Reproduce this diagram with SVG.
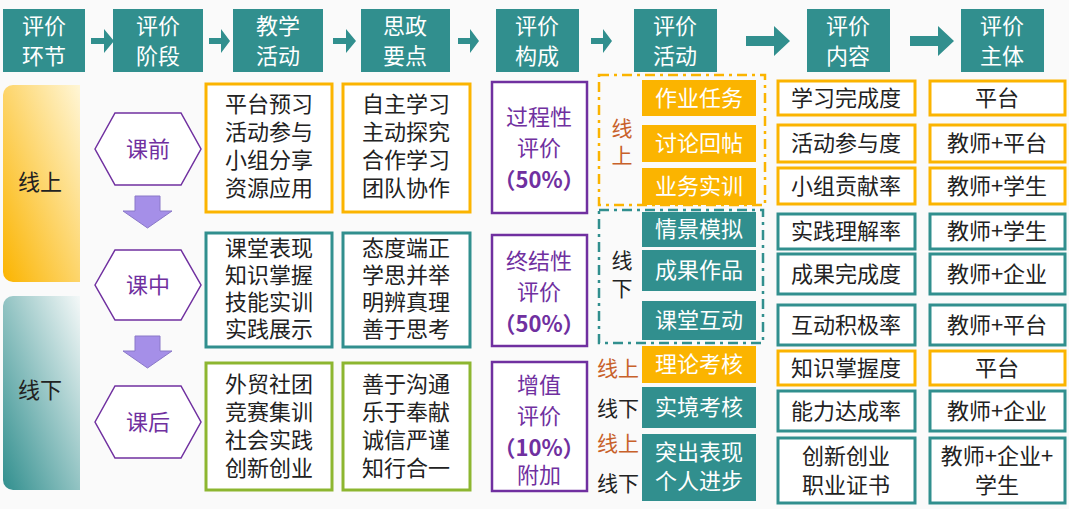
<svg xmlns="http://www.w3.org/2000/svg" width="1069" height="509" viewBox="0 0 1069 509">
<defs>
<style>
text{font-family:"Noto Sans CJK SC","Liberation Sans",sans-serif;text-anchor:middle}
.hd{fill:#318F8E}.ht{fill:#fff;font-size:22px}
.arw{fill:#318F8E}
.bo{fill:#fff;stroke:#FBB400;stroke-width:3}
.bt{fill:#fff;stroke:#318F8E;stroke-width:3}
.bg{fill:#fff;stroke:#8DB630;stroke-width:3}
.bp{fill:#fff;stroke:#7030A0;stroke-width:2.5}
.tx{font-size:22px;fill:#222}
.pt{font-size:22px;fill:#7030A0}
.ao{fill:#FBB400}.at{fill:#318F8E}
.wt{font-size:22px;fill:#fff}
.ol{fill:#C8612A;font-size:21px}
.dl{fill:#222;font-size:21px}
.hex{fill:#fff;stroke:#7030A0;stroke-width:1.5}
.dn{fill:#A58FE8;stroke:#8a78c8;stroke-width:1}
</style>
<linearGradient id="gup" x1="0" y1="1" x2="1" y2="0"><stop offset="0" stop-color="#FBB400"/><stop offset="1" stop-color="#FFF6D6"/></linearGradient>
<linearGradient id="gdn" x1="0" y1="1" x2="1" y2="0"><stop offset="0" stop-color="#318F8E"/><stop offset="1" stop-color="#F4F8F8"/></linearGradient>
</defs>
<rect width="1069" height="509" fill="#FAFAFA"/>
<g id="headers">
<rect class="hd" x="3" y="9" width="82" height="63"/><text class="ht" x="44" y="34">评价</text><text class="ht" x="44" y="64">环节</text>
<rect class="hd" x="113" y="9" width="90" height="63"/><text class="ht" x="158" y="34">评价</text><text class="ht" x="158" y="64">阶段</text>
<rect class="hd" x="233" y="9" width="90" height="63"/><text class="ht" x="278" y="34">教学</text><text class="ht" x="278" y="64">活动</text>
<rect class="hd" x="361" y="9" width="89" height="63"/><text class="ht" x="405" y="34">思政</text><text class="ht" x="405" y="64">要点</text>
<rect class="hd" x="496" y="9" width="83" height="63"/><text class="ht" x="537" y="34">评价</text><text class="ht" x="537" y="64">构成</text>
<rect class="hd" x="634" y="9" width="83" height="63"/><text class="ht" x="675" y="34">评价</text><text class="ht" x="675" y="64">活动</text>
<rect class="hd" x="807" y="9" width="83" height="63"/><text class="ht" x="848" y="34">评价</text><text class="ht" x="848" y="64">内容</text>
<rect class="hd" x="961" y="9" width="83" height="63"/><text class="ht" x="1002" y="34">评价</text><text class="ht" x="1002" y="64">主体</text>
</g>
<g id="connectors">
<path class="arw" d="M91,38h13v-9l10,12l-10,12v-9h-13z"/>
<path class="arw" d="M209,38h12v-9l9,12l-9,12v-9h-12z"/>
<path class="arw" d="M333,38h13v-9l10,12l-10,12v-9h-13z"/>
<path class="arw" d="M458,38h12v-9l9,12l-9,12v-9h-12z"/>
<path class="arw" d="M591,38h12v-9l9,12l-9,12v-9h-12z"/>
<path class="arw" d="M746,36h28v-10l16,15l-16,15v-10h-28z"/>
<path class="arw" d="M910,36h28v-10l16,15l-16,15v-10h-28z"/>
<path class="dn" d="M135,196h25v15h12l-24.5,17l-24.5,-17h12z"/>
<path class="dn" d="M135,336h25v15h12l-24.5,17l-24.5,-17h12z"/>
</g>
<g id="online"><path d="M13,85h67v197h-67a10,10 0 0 1 -10,-10v-177a10,10 0 0 1 10,-10z" fill="url(#gup)"/><text class="tx" x="40" y="190">线上</text></g>
<g id="offline"><path d="M13,296h67v194h-67a10,10 0 0 1 -10,-10v-174a10,10 0 0 1 10,-10z" fill="url(#gdn)"/><text class="tx" x="40" y="398">线下</text></g>
<g id="kq"><polygon class="hex" points="95,149 115,113 181,113 201,149 181,185 115,185"/><text class="pt" x="148" y="157">课前</text></g>
<g id="kz"><polygon class="hex" points="95,285 115,250 181,250 201,285 181,320 115,320"/><text class="pt" x="148" y="293">课中</text></g>
<g id="kh"><polygon class="hex" points="95,422 115,386 181,386 201,422 181,458 115,458"/><text class="pt" x="148" y="430">课后</text></g>
<g id="act1"><rect class="bo" x="206" y="84" width="126" height="128"/><text class="tx" x="269" y="112">平台预习</text><text class="tx" x="269" y="140">活动参与</text><text class="tx" x="269" y="168">小组分享</text><text class="tx" x="269" y="196">资源应用</text></g>
<g id="act2"><rect class="bt" x="206" y="233" width="126" height="114"/><text class="tx" x="269" y="256">课堂表现</text><text class="tx" x="269" y="283">知识掌握</text><text class="tx" x="269" y="310">技能实训</text><text class="tx" x="269" y="337">实践展示</text></g>
<g id="act3"><rect class="bg" x="206" y="363" width="126" height="127"/><text class="tx" x="269" y="392">外贸社团</text><text class="tx" x="269" y="420">竞赛集训</text><text class="tx" x="269" y="448">社会实践</text><text class="tx" x="269" y="476">创新创业</text></g>
<g id="sz1"><rect class="bo" x="343" y="84" width="127" height="128"/><text class="tx" x="406" y="112">自主学习</text><text class="tx" x="406" y="140">主动探究</text><text class="tx" x="406" y="168">合作学习</text><text class="tx" x="406" y="196">团队协作</text></g>
<g id="sz2"><rect class="bt" x="343" y="233" width="127" height="114"/><text class="tx" x="406" y="256">态度端正</text><text class="tx" x="406" y="283">学思并举</text><text class="tx" x="406" y="310">明辨真理</text><text class="tx" x="406" y="337">善于思考</text></g>
<g id="sz3"><rect class="bg" x="343" y="363" width="127" height="127"/><text class="tx" x="406" y="392">善于沟通</text><text class="tx" x="406" y="420">乐于奉献</text><text class="tx" x="406" y="448">诚信严谨</text><text class="tx" x="406" y="476">知行合一</text></g>
<g id="gc1"><rect class="bp" x="492" y="82" width="95" height="131"/><text class="pt" x="539" y="125">过程性</text><text class="pt" x="539" y="156">评价</text><text class="pt" x="539" y="188" font-weight="bold" font-size="20">（50%）</text></g>
<g id="gc2"><rect class="bp" x="492" y="235" width="95" height="111"/><text class="pt" x="539" y="269">终结性</text><text class="pt" x="539" y="300">评价</text><text class="pt" x="539" y="332" font-weight="bold" font-size="20">（50%）</text></g>
<g id="gc3"><rect class="bp" x="492" y="362" width="95" height="129"/><text class="pt" x="539" y="393">增值</text><text class="pt" x="539" y="424">评价</text><text class="pt" x="539" y="456" font-weight="bold" font-size="20">（10%）</text><text class="pt" x="539" y="483" font-size="16">附加</text></g>
<g id="frames" fill="none" stroke-width="2.5" stroke-dasharray="10,5,3,5">
<rect x="599" y="75" width="166" height="130" stroke="#FBB400"/>
<rect x="599" y="210" width="164" height="133" stroke="#318F8E"/>
</g>
<g id="labels">
<text class="ol" x="622" y="136">线</text><text class="ol" x="622" y="163">上</text>
<text class="dl" x="622" y="268">线</text><text class="dl" x="622" y="296">下</text>
<text class="ol" x="618" y="376">线上</text><text class="dl" x="618" y="416">线下</text>
<text class="ol" x="618" y="451">线上</text><text class="dl" x="618" y="491">线下</text>
</g>
<g id="acts">
<rect class="ao" x="642" y="80" width="114" height="36"/><text class="wt" x="699" y="106">作业任务</text>
<rect class="ao" x="642" y="125" width="114" height="37"/><text class="wt" x="699" y="151">讨论回帖</text>
<rect class="ao" x="642" y="168" width="114" height="37"/><text class="wt" x="699" y="194">业务实训</text>
<rect class="at" x="642" y="212" width="114" height="35"/><text class="wt" x="699" y="237">情景模拟</text>
<rect class="at" x="642" y="250" width="114" height="41"/><text class="wt" x="699" y="278">成果作品</text>
<rect class="at" x="642" y="301" width="114" height="39"/><text class="wt" x="699" y="328">课堂互动</text>
<rect class="ao" x="642" y="346" width="114" height="37"/><text class="wt" x="699" y="372">理论考核</text>
<rect class="at" x="642" y="387" width="114" height="41"/><text class="wt" x="699" y="415">实境考核</text>
<rect class="at" x="642" y="434" width="114" height="67"/><text class="wt" x="699" y="460">突出表现</text><text class="wt" x="699" y="489">个人进步</text>
</g>
<g id="content">
<rect class="bo" x="778" y="81" width="137" height="34"/><text class="tx" x="846" y="106">学习完成度</text>
<rect class="bo" x="778" y="125" width="137" height="37"/><text class="tx" x="846" y="151">活动参与度</text>
<rect class="bo" x="778" y="168" width="137" height="36"/><text class="tx" x="846" y="194">小组贡献率</text>
<rect class="bt" x="778" y="214" width="137" height="35"/><text class="tx" x="846" y="239">实践理解率</text>
<rect class="bt" x="778" y="254" width="137" height="40"/><text class="tx" x="846" y="282">成果完成度</text>
<rect class="bt" x="778" y="305" width="137" height="40"/><text class="tx" x="846" y="333">互动积极率</text>
<rect class="bo" x="778" y="351" width="137" height="34"/><text class="tx" x="846" y="376">知识掌握度</text>
<rect class="bt" x="778" y="391" width="137" height="40"/><text class="tx" x="846" y="419">能力达成率</text>
<rect class="bt" x="778" y="438" width="137" height="65"/><text class="tx" x="846" y="464">创新创业</text><text class="tx" x="846" y="493">职业证书</text>
</g>
<g id="subject">
<rect class="bo" x="930" y="81" width="135" height="34"/><text class="tx" x="997" y="106">平台</text>
<rect class="bo" x="930" y="125" width="135" height="37"/><text class="tx" x="997" y="151">教师+平台</text>
<rect class="bo" x="930" y="168" width="135" height="36"/><text class="tx" x="997" y="194">教师+学生</text>
<rect class="bt" x="930" y="214" width="135" height="35"/><text class="tx" x="997" y="239">教师+学生</text>
<rect class="bt" x="930" y="254" width="135" height="40"/><text class="tx" x="997" y="282">教师+企业</text>
<rect class="bt" x="930" y="305" width="135" height="40"/><text class="tx" x="997" y="333">教师+平台</text>
<rect class="bo" x="930" y="351" width="135" height="34"/><text class="tx" x="997" y="376">平台</text>
<rect class="bt" x="930" y="391" width="135" height="40"/><text class="tx" x="997" y="419">教师+企业</text>
<rect class="bt" x="930" y="438" width="135" height="65"/><text class="tx" x="997" y="464">教师+企业+</text><text class="tx" x="997" y="493">学生</text>
</g>
</svg>
